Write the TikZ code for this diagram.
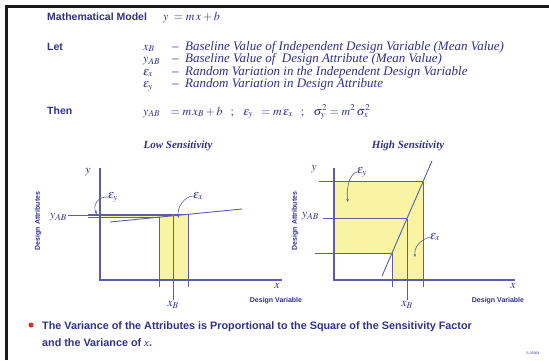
\documentclass[tikz,border=0pt]{standalone}
\usepackage{mathptmx}
\usepackage[no-math]{fontspec}
\setmainfont{Liberation Serif}
\setsansfont{Liberation Sans}
\usetikzlibrary{positioning,arrows.meta}
\definecolor{navy}{HTML}{30308F}
\definecolor{axis}{HTML}{5C5CAC}
\definecolor{tintye}{HTML}{F8F4A4}
\definecolor{dot}{HTML}{E3262B}
\tikzset{
  hd/.style={font=\sffamily\bfseries\fontsize{10.5}{12}\selectfont,text=navy,inner sep=0pt,anchor=base west},
  sym/.style={font=\fontsize{12}{14}\selectfont,text=navy,inner sep=0pt,anchor=base west},
  defn/.style={font=\itshape\fontsize{13}{14}\selectfont,text=navy,inner sep=0pt,anchor=base west},
  ttl/.style={font=\bfseries\itshape\fontsize{11}{13}\selectfont,text=navy,inner sep=0pt},
  lbl/.style={font=\fontsize{12}{14}\selectfont,text=navy,inner sep=0pt},
  axname/.style={font=\sffamily\bfseries\fontsize{7}{8}\selectfont,text=navy,inner sep=0pt},
  concl/.style={font=\sffamily\bfseries\fontsize{10.8}{13}\selectfont,text=navy,inner sep=0pt,anchor=base west},
  ax/.style={draw=axis,line width=1.2pt},
  guide/.style={draw=axis,line width=0.9pt},
  pointer/.style={draw=axis,line width=0.6pt,-{Stealth[length=3pt,width=2.5pt]}}
}
\begin{document}
\begin{tikzpicture}[x=1pt,y=-1pt]
\useasboundingbox (0,0) rectangle (549,360);
\draw[line width=3pt,black!90] (6,360) -- (6,6) -- (549,6);
\node[hd] (model) at (47,20) {Mathematical Model};
\node[sym] (modeleq) at (163,20) {$y\;=m\,x+b$};
\node[hd] (let) at (47,50) {Let};
\node[sym] (xB) at (143,50) {$x_B$};
\node[sym] (yAB) at (143,62.5) {$y_{AB}$};
\node[sym] (ex) at (143,75) {$\varepsilon_x$};
\node[sym] (ey) at (143,87.5) {$\varepsilon_y$};
\node[defn] (xBdef) at (172,50) {--\enspace Baseline Value of Independent Design Variable (Mean Value)};
\node[defn] (yABdef) at (172,62.5) {--\enspace Baseline Value of \ Design Attribute (Mean Value)};
\node[defn] (exdef) at (172,75) {--\enspace Random Variation in the Independent Design Variable};
\node[defn] (eydef) at (172,87.5) {--\enspace Random Variation in Design Attribute};
\node[hd] (then) at (47,114) {Then};
\node[sym] (result) at (143,115) {$y_{AB}\;\;\;=m\,x_B+b\;\;\;;\;\;\;\varepsilon_y\;\;=m\,\varepsilon_x\;\;\;;\;\;\;\sigma_y^2=m^2\,\sigma_x^2$};
% low sensitivity
\node[ttl] (lowttl) at (178,146) {Low Sensitivity};
\fill[tintye] (100,214.3) -- (188,214.3) -- (188,280) -- (159,280) -- (159,217.2) -- (100,217.2) -- cycle;
\draw[ax] (100,168) -- (100,280) -- (282,280);
\draw[guide] (110,222) -- (242,209);
\draw[guide] (88,214.3) -- (188,214.3) (88,217.2) -- (159,217.2) (68,215.8) -- (173,215.8);
\draw[guide] (159,217.2) -- (159,287) (188,214.3) -- (188,287) (173,215.8) -- (173,300);
\node[lbl] (ylow) at (88,172) {$y$};
\node[lbl] (xlow) at (277,286) {$x$};
\node[lbl,anchor=east] (yABlow) at (67,217) {$y_{AB}$};
\node[lbl,anchor=north] (xBlow) at (173,301) {$x_B$};
\node[axname,rotate=90] (attrlow) at (38,221) {Design Attributes};
\node[axname] (varlow) at (276,301) {Design Variable};
\node[lbl] (eylow) at (113,197) {$\varepsilon_y$};
\node[lbl] (exlow) at (198,196) {$\varepsilon_x$};
\coordinate (eylowtip) at (97,214);
\coordinate (exlowtip) at (179,218);
\draw[pointer] (eylow.west) .. controls +(-10,-1) and +(-5,-8) .. (eylowtip);
\draw[pointer] (exlow.west) .. controls +(-8,0) and +(-3,-10) .. (exlowtip);
% high sensitivity
\node[ttl] (highttl) at (408,146) {High Sensitivity};
\fill[tintye] (334,181.7) -- (423,181.7) -- (423,280) -- (392,280) -- (392,253) -- (334,253) -- cycle;
\draw[ax] (334,168) -- (334,280) -- (515,280);
\draw[guide] (382,276) -- (432,161);
\draw[guide] (319,181.7) -- (423,181.7) (323,218.5) -- (407,218.5) (315,253) -- (392,253);
\draw[guide] (392,253) -- (392,287) (423,181.7) -- (423,287) (407,218.5) -- (407,300);
\node[lbl] (yhigh) at (314,169) {$y$};
\node[lbl] (xhigh) at (513,286) {$x$};
\node[lbl,anchor=east] (yABhigh) at (319,216) {$y_{AB}$};
\node[lbl,anchor=north] (xBhigh) at (407,301) {$x_B$};
\node[axname,rotate=90] (attrhigh) at (295,221) {Design Attributes};
\node[axname] (varhigh) at (498,301) {Design Variable};
\node[lbl] (eyhigh) at (362,172) {$\varepsilon_y$};
\node[lbl] (exhigh) at (435,237) {$\varepsilon_x$};
\coordinate (eyhightip) at (348,202);
\coordinate (exhightip) at (415,257);
\draw[pointer] (eyhigh.west) .. controls +(-8,2) and +(-2,-12) .. (eyhightip);
\draw[pointer] (exhigh.west) .. controls +(-10,3) and +(-1,-10) .. (exhightip);
% conclusion
\node[circle,fill=dot,inner sep=0pt,minimum size=5pt] (bul) at (31,325) {};
\node[concl] (concl) at (42,329) {The Variance of the Attributes is Proportional to the Square of the Sensitivity Factor};
\node[concl] (concltwo) at (42,346) {and the Variance of {\normalfont\itshape x}.};
\node[font=\sffamily\fontsize{3.5}{4}\selectfont,text=navy,inner sep=0pt] (code) at (533,353) {S-35064};
\end{tikzpicture}
\end{document}
